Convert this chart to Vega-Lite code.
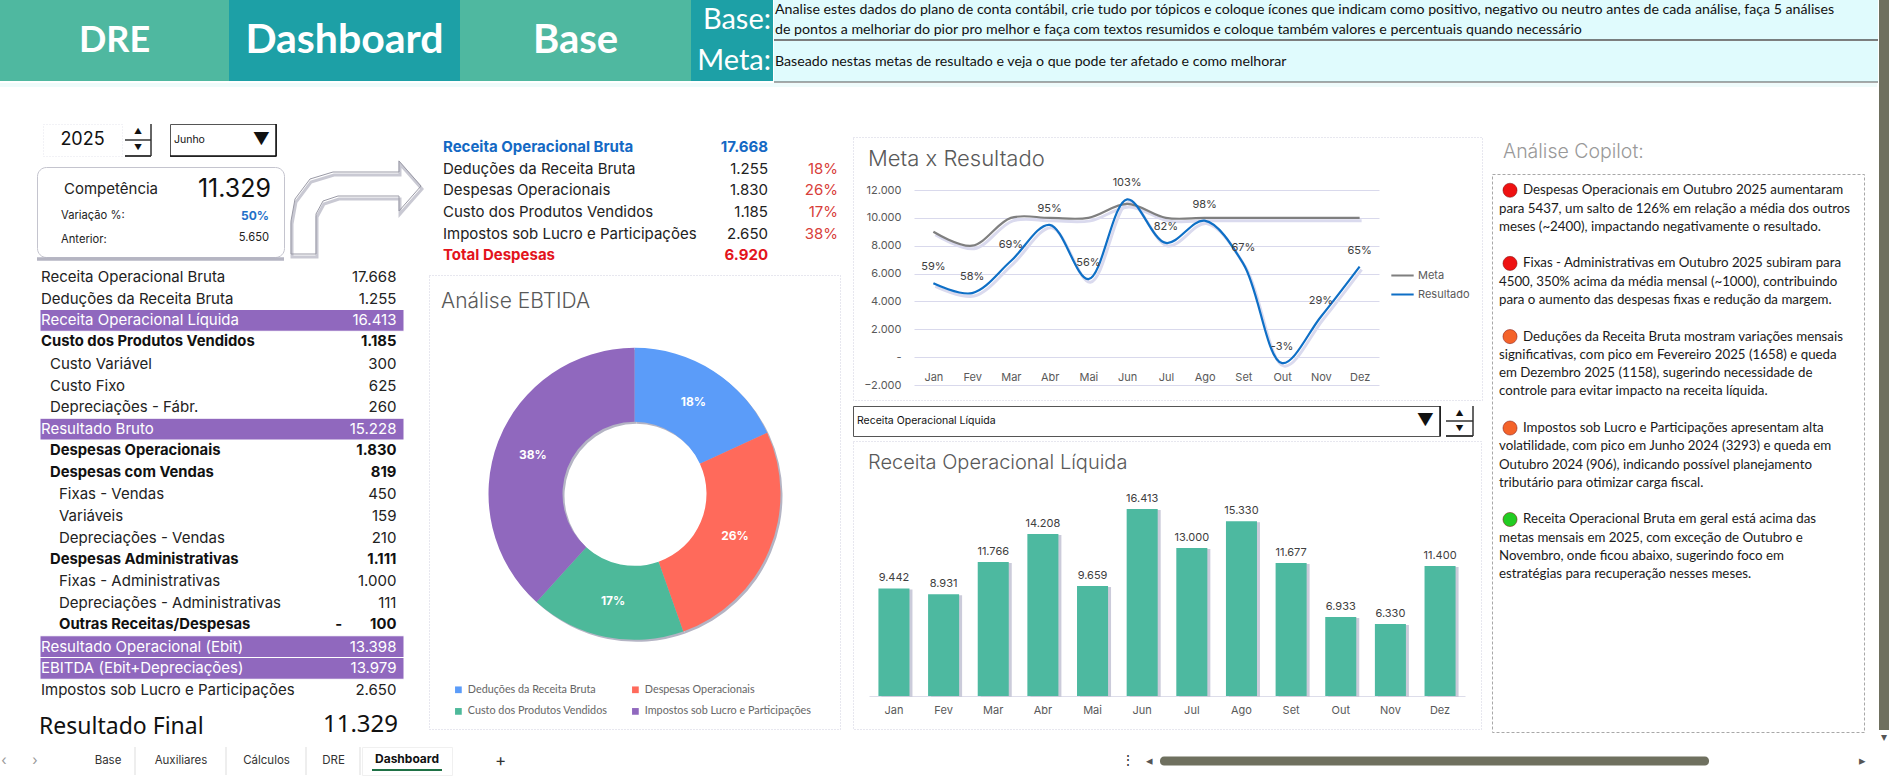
{
  "$schema": "https://vega.github.io/schema/vega-lite/v6.json",
  "description": "Dashboard DRE 2025",
  "padding": 0,
  "background": "white",
  "config": {
    "font": "Inter",
    "view": {"stroke": null},
    "concat": {"spacing": 0},
    "text": {"font": "Inter"},
    "locale": {"number": {"decimal": ",", "thousands": ".", "grouping": [3], "currency": ["R$", ""]}}
  },
  "datasets": {
    "dre": [
      {"linha": 1, "conta": "Receita Operacional Bruta", "nivel": 0, "valor": "17.668", "estilo": "normal"},
      {"linha": 2, "conta": "Deduções da Receita Bruta", "nivel": 0, "valor": "1.255", "estilo": "normal"},
      {"linha": 3, "conta": "Receita Operacional Líquida", "nivel": 0, "valor": "16.413", "estilo": "destaque"},
      {"linha": 4, "conta": "Custo dos Produtos Vendidos", "nivel": 0, "valor": "1.185", "estilo": "negrito"},
      {"linha": 5, "conta": "Custo Variável", "nivel": 1, "valor": "300", "estilo": "normal"},
      {"linha": 6, "conta": "Custo Fixo", "nivel": 1, "valor": "625", "estilo": "normal"},
      {"linha": 7, "conta": "Depreciações - Fábr.", "nivel": 1, "valor": "260", "estilo": "normal"},
      {"linha": 8, "conta": "Resultado Bruto", "nivel": 0, "valor": "15.228", "estilo": "destaque"},
      {"linha": 9, "conta": "Despesas Operacionais", "nivel": 1, "valor": "1.830", "estilo": "negrito"},
      {"linha": 10, "conta": "Despesas com Vendas", "nivel": 1, "valor": "819", "estilo": "negrito"},
      {"linha": 11, "conta": "Fixas - Vendas", "nivel": 2, "valor": "450", "estilo": "normal"},
      {"linha": 12, "conta": "Variáveis", "nivel": 2, "valor": "159", "estilo": "normal"},
      {"linha": 13, "conta": "Depreciações - Vendas", "nivel": 2, "valor": "210", "estilo": "normal"},
      {"linha": 14, "conta": "Despesas Administrativas", "nivel": 1, "valor": "1.111", "estilo": "negrito"},
      {"linha": 15, "conta": "Fixas - Administrativas", "nivel": 2, "valor": "1.000", "estilo": "normal"},
      {"linha": 16, "conta": "Depreciações - Administrativas", "nivel": 2, "valor": "111", "estilo": "normal"},
      {"linha": 17, "conta": "Outras Receitas/Despesas", "nivel": 2, "valor": "-\u00a0\u00a0\u00a0\u00a0\u00a0\u00a0\u00a0\u00a0100", "estilo": "negrito"},
      {"linha": 18, "conta": "Resultado Operacional (Ebit)", "nivel": 0, "valor": "13.398", "estilo": "destaque"},
      {"linha": 19, "conta": "EBITDA (Ebit+Depreciações)", "nivel": 0, "valor": "13.979", "estilo": "destaque"},
      {"linha": 20, "conta": "Impostos sob Lucro e Participações", "nivel": 0, "valor": "2.650", "estilo": "normal"}
    ],
    "despesas": [
      {"linha": 1, "conta": "Receita Operacional Bruta", "valor": "17.668", "pct": "", "estilo": "receita"},
      {"linha": 2, "conta": "Deduções da Receita Bruta", "valor": "1.255", "pct": "18%", "estilo": "normal"},
      {"linha": 3, "conta": "Despesas Operacionais", "valor": "1.830", "pct": "26%", "estilo": "normal"},
      {"linha": 4, "conta": "Custo dos Produtos Vendidos", "valor": "1.185", "pct": "17%", "estilo": "normal"},
      {"linha": 5, "conta": "Impostos sob Lucro e Participações", "valor": "2.650", "pct": "38%", "estilo": "normal"},
      {"linha": 6, "conta": "Total Despesas", "valor": "6.920", "pct": "", "estilo": "total"}
    ],
    "ebtida": [
      {"ordem": 1, "conta": "Deduções da Receita Bruta", "valor": 1255, "pct": "18%"},
      {"ordem": 2, "conta": "Despesas Operacionais", "valor": 1830, "pct": "26%"},
      {"ordem": 3, "conta": "Custo dos Produtos Vendidos", "valor": 1185, "pct": "17%"},
      {"ordem": 4, "conta": "Impostos sob Lucro e Participações", "valor": 2650, "pct": "38%"}
    ],
    "metaResultado": [
      {"mes": "Jan", "serie": "Meta", "valor": 9000},
      {"mes": "Fev", "serie": "Meta", "valor": 8000},
      {"mes": "Mar", "serie": "Meta", "valor": 10000},
      {"mes": "Abr", "serie": "Meta", "valor": 10000},
      {"mes": "Mai", "serie": "Meta", "valor": 10000},
      {"mes": "Jun", "serie": "Meta", "valor": 11000},
      {"mes": "Jul", "serie": "Meta", "valor": 10000},
      {"mes": "Ago", "serie": "Meta", "valor": 10000},
      {"mes": "Set", "serie": "Meta", "valor": 10000},
      {"mes": "Out", "serie": "Meta", "valor": 10000},
      {"mes": "Nov", "serie": "Meta", "valor": 10000},
      {"mes": "Dez", "serie": "Meta", "valor": 10000},
      {"mes": "Jan", "serie": "Resultado", "valor": 5300, "pct": "59%"},
      {"mes": "Fev", "serie": "Resultado", "valor": 4600, "pct": "58%"},
      {"mes": "Mar", "serie": "Resultado", "valor": 6900, "pct": "69%"},
      {"mes": "Abr", "serie": "Resultado", "valor": 9500, "pct": "95%"},
      {"mes": "Mai", "serie": "Resultado", "valor": 5600, "pct": "56%"},
      {"mes": "Jun", "serie": "Resultado", "valor": 11329, "pct": "103%"},
      {"mes": "Jul", "serie": "Resultado", "valor": 8200, "pct": "82%"},
      {"mes": "Ago", "serie": "Resultado", "valor": 9800, "pct": "98%"},
      {"mes": "Set", "serie": "Resultado", "valor": 6700, "pct": "67%"},
      {"mes": "Out", "serie": "Resultado", "valor": -430, "pct": "-3%"},
      {"mes": "Nov", "serie": "Resultado", "valor": 2900, "pct": "29%"},
      {"mes": "Dez", "serie": "Resultado", "valor": 6500, "pct": "65%"}
    ],
    "receita": [
      {"mes": "Jan", "valor": 9442},
      {"mes": "Fev", "valor": 8931},
      {"mes": "Mar", "valor": 11766},
      {"mes": "Abr", "valor": 14208},
      {"mes": "Mai", "valor": 9659},
      {"mes": "Jun", "valor": 16413},
      {"mes": "Jul", "valor": 13000},
      {"mes": "Ago", "valor": 15330},
      {"mes": "Set", "valor": 11677},
      {"mes": "Out", "valor": 6933},
      {"mes": "Nov", "valor": 6330},
      {"mes": "Dez", "valor": 11400}
    ],
    "copilot": [
      {"linha": 0, "recuo": 1, "status": "negativo", "texto": "Despesas Operacionais em Outubro 2025 aumentaram"},
      {"linha": 1, "recuo": 0, "texto": "para 5437, um salto de 126% em relação a média dos outros"},
      {"linha": 2, "recuo": 0, "texto": "meses (~2400), impactando negativamente o resultado."},
      {"linha": 4, "recuo": 1, "status": "negativo", "texto": "Fixas - Administrativas em Outubro 2025 subiram para"},
      {"linha": 5, "recuo": 0, "texto": "4500, 350% acima da média mensal (~1000), contribuindo"},
      {"linha": 6, "recuo": 0, "texto": "para o aumento das despesas fixas e redução da margem."},
      {"linha": 8, "recuo": 1, "status": "alerta", "texto": "Deduções da Receita Bruta mostram variações mensais"},
      {"linha": 9, "recuo": 0, "texto": "significativas, com pico em Fevereiro 2025 (1658) e queda"},
      {"linha": 10, "recuo": 0, "texto": "em Dezembro 2025 (1158), sugerindo necessidade de"},
      {"linha": 11, "recuo": 0, "texto": "controle para evitar impacto na receita líquida."},
      {"linha": 13, "recuo": 1, "status": "alerta", "texto": "Impostos sob Lucro e Participações apresentam alta"},
      {"linha": 14, "recuo": 0, "texto": "volatilidade, com pico em Junho 2024 (3293) e queda em"},
      {"linha": 15, "recuo": 0, "texto": "Outubro 2024 (906), indicando possível planejamento"},
      {"linha": 16, "recuo": 0, "texto": "tributário para otimizar carga fiscal."},
      {"linha": 18, "recuo": 1, "status": "positivo", "texto": "Receita Operacional Bruta em geral está acima das"},
      {"linha": 19, "recuo": 0, "texto": "metas mensais em 2025, com exceção de Outubro e"},
      {"linha": 20, "recuo": 0, "texto": "Novembro, onde ficou abaixo, sugerindo foco em"},
      {"linha": 21, "recuo": 0, "texto": "estratégias para recuperação nesses meses."}
    ],
    "seta": [
      {"ponto": 1, "px": 293, "py": 255},
      {"ponto": 2, "px": 318, "py": 255},
      {"ponto": 3, "px": 318, "py": 215},
      {"ponto": 4, "px": 325, "py": 202},
      {"ponto": 5, "px": 340, "py": 197},
      {"ponto": 6, "px": 401, "py": 197},
      {"ponto": 7, "px": 401, "py": 212},
      {"ponto": 8, "px": 423, "py": 187},
      {"ponto": 9, "px": 401, "py": 162},
      {"ponto": 10, "px": 401, "py": 173},
      {"ponto": 11, "px": 335, "py": 173},
      {"ponto": 12, "px": 312, "py": 180},
      {"ponto": 13, "px": 297, "py": 200},
      {"ponto": 14, "px": 293, "py": 222}
    ]
  },
  "hconcat": [
    {
      "vconcat": [
        {
          "hconcat": [
            {"width": 229, "height": 81, "view": {"fill": "#4FB8A0"}, "data": {"values": [{"aba": "DRE"}]}, "mark": {"type": "text", "font": "Lato", "fontSize": 36, "fontWeight": "bold", "color": "white"}, "encoding": {"text": {"field": "aba"}}},
            {"width": 231, "height": 81, "view": {"fill": "#1DA0A6"}, "data": {"values": [{"aba": "Dashboard"}]}, "mark": {"type": "text", "font": "Lato", "fontSize": 41, "fontWeight": "bold", "color": "white"}, "encoding": {"text": {"field": "aba"}}},
            {"width": 231, "height": 81, "view": {"fill": "#4FB8A0"}, "data": {"values": [{"aba": "Base"}]}, "mark": {"type": "text", "font": "Lato", "fontSize": 40, "fontWeight": "bold", "color": "white"}, "encoding": {"text": {"field": "aba"}}},
            {
              "width": 82, "height": 81, "view": {"fill": "#1DA0A6"},
              "data": {"values": [{"rotulo": "Base:"}, {"rotulo": "Meta:"}]},
              "mark": {"type": "text", "font": "Lato", "fontSize": 29, "color": "white", "align": "right", "dx": -2},
              "encoding": {
                "text": {"field": "rotulo"},
                "x": {"datum": 1, "type": "quantitative", "axis": null, "scale": {"domain": [0, 1]}},
                "y": {"field": "rotulo", "type": "ordinal", "axis": null, "sort": null, "scale": {"paddingInner": 0, "paddingOuter": 0}}
              }
            },
            {
              "vconcat": [
                {
                  "width": 1104, "height": 40, "view": {"fill": "#E0FBFD"},
                  "data": {"values": [
                    {"linha": 1, "texto": "Analise estes dados do plano de conta contábil, crie tudo por tópicos e coloque ícones que indicam como positivo, negativo ou neutro antes de cada análise, faça 5 análises"},
                    {"linha": 2, "texto": "de pontos a melhoriar do pior pro melhor e faça com textos resumidos e coloque também valores e percentuais quando necessário"}
                  ]},
                  "layer": [
                    {"mark": {"type": "text", "font": "Lato", "fontSize": 14.2, "align": "left", "dx": 1, "color": "#111"}, "encoding": {"text": {"field": "texto"}, "x": {"datum": 0, "type": "quantitative", "axis": null, "scale": {"domain": [0, 1]}}, "y": {"field": "linha", "type": "ordinal", "axis": null, "scale": {"paddingInner": 0, "paddingOuter": 0}}}},
                    {"mark": {"type": "rule", "color": "#555", "strokeWidth": 1}, "encoding": {"y": {"value": "height"}}}
                  ]
                },
                {
                  "width": 1104, "height": 41, "view": {"fill": "#E0FBFD"},
                  "data": {"values": [{"texto": "Baseado nestas metas de resultado e veja o que pode ter afetado e como melhorar"}]},
                  "layer": [
                    {"mark": {"type": "text", "font": "Lato", "fontSize": 14.2, "align": "left", "dx": 1, "color": "#111"}, "encoding": {"text": {"field": "texto"}, "x": {"datum": 0, "type": "quantitative", "axis": null, "scale": {"domain": [0, 1]}}}},
                    {"mark": {"type": "rule", "color": "#555", "strokeWidth": 1}, "encoding": {"y": {"value": "height"}}}
                  ]
                }
              ],
              "spacing": 0
            }
          ],
          "spacing": 0
        },
        {"width": 1877, "height": 4, "view": {"fill": "#EFFBFB"}, "data": {"values": []}, "mark": "text"},
        {
          "hconcat": [
            {
              "vconcat": [
                {"width": 420, "height": 35, "data": {"values": []}, "mark": "text"},
                {
                  "hconcat": [
                    {"width": 42, "height": 32, "data": {"values": []}, "mark": "text"},
                    {"width": 79, "height": 32, "view": {"stroke": "#E4E4EC", "strokeDash": [1, 2]}, "data": {"values": [{"ano": "2025"}]}, "mark": {"type": "text", "fontSize": 18, "color": "#111"}, "encoding": {"text": {"field": "ano"}}},
                    {"width": 1, "height": 32, "data": {"values": []}, "mark": "text"},
                    {
                      "width": 26, "height": 32,
                      "data": {"values": [{"botao": "▲"}, {"botao": "▼"}]},
                      "layer": [
                        {"mark": {"type": "text", "fontSize": 8, "color": "#111"}, "encoding": {"text": {"field": "botao"}, "y": {"field": "botao", "type": "ordinal", "axis": null, "sort": null, "scale": {"paddingInner": 0, "paddingOuter": 0}}}},
                        {"mark": {"type": "rule", "color": "#333"}, "encoding": {"y": {"value": 16}}},
                        {"mark": {"type": "rule", "color": "#333", "strokeWidth": 1.5}, "encoding": {"y": {"value": "height"}}},
                        {"mark": {"type": "rule", "color": "#333"}, "encoding": {"x": {"value": "width"}}}
                      ]
                    },
                    {"width": 16, "height": 32, "data": {"values": []}, "mark": "text"},
                    {
                      "width": 106, "height": 32, "view": {"stroke": "#555"},
                      "data": {"values": [{"mes": "Junho", "seta": "▼"}]},
                      "layer": [
                        {"mark": {"type": "text", "fontSize": 10.5, "align": "left", "dx": 4, "color": "#111"}, "encoding": {"text": {"field": "mes"}, "x": {"datum": 0, "type": "quantitative", "axis": null, "scale": {"domain": [0, 1]}}}},
                        {"mark": {"type": "text", "fontSize": 17, "align": "right", "dx": -6, "color": "#111"}, "encoding": {"text": {"field": "seta"}, "x": {"datum": 1, "type": "quantitative", "axis": null, "scale": {"domain": [0, 1]}}}},
                        {"mark": {"type": "rule", "color": "#111", "strokeWidth": 1.5}, "encoding": {"y": {"value": "height"}}},
                        {"mark": {"type": "rule", "color": "#111", "strokeWidth": 1.5}, "encoding": {"x": {"value": "width"}}}
                      ]
                    }
                  ],
                  "spacing": 0
                },
                {
                  "hconcat": [
                    {"width": 35, "height": 106, "data": {"values": []}, "mark": "text"},
                    {
                      "vconcat": [
                        {"width": 247, "height": 6, "data": {"values": []}, "mark": "text"},
                        {
                          "width": 247, "height": 90,
                          "view": {"stroke": "#C4C4CE", "cornerRadius": 9},
                          "data": {"values": [
                            {"linha": 1, "rotulo": "Competência", "valor": "11.329", "estilo": "grande"},
                            {"linha": 2, "rotulo": "Variação %:", "valor": "50%", "estilo": "azul"},
                            {"linha": 3, "rotulo": "Anterior:", "valor": "5.650", "estilo": "normal"}
                          ]},
                          "encoding": {
                            "y": {"field": "linha", "type": "ordinal", "axis": null, "scale": {"type": "point", "padding": 0, "range": [22, 71]}}
                          },
                          "layer": [
                            {"mark": {"type": "rule", "color": "#B4B4C0", "strokeWidth": 3, "yOffset": 2, "opacity": 0.7}, "encoding": {"y": {"value": "height"}}},
                            {"transform": [{"filter": "datum.estilo == 'grande'"}], "mark": {"type": "text", "fontSize": 15, "align": "left", "color": "#222"}, "encoding": {"text": {"field": "rotulo"}, "x": {"datum": 27, "type": "quantitative", "axis": null, "scale": {"domain": [0, 247]}}}},
                            {"transform": [{"filter": "datum.estilo == 'grande'"}], "mark": {"type": "text", "fontSize": 25, "align": "right", "color": "#111"}, "encoding": {"text": {"field": "valor"}, "x": {"datum": 234, "type": "quantitative", "axis": null, "scale": {"domain": [0, 247]}}}},
                            {"transform": [{"filter": "datum.estilo != 'grande'"}], "mark": {"type": "text", "fontSize": 11.2, "align": "left", "color": "#222", "dy": 2}, "encoding": {"text": {"field": "rotulo"}, "x": {"datum": 24, "type": "quantitative", "axis": null, "scale": {"domain": [0, 247]}}}},
                            {"transform": [{"filter": "datum.estilo == 'azul'"}], "mark": {"type": "text", "fontSize": 12, "fontWeight": "bold", "align": "right", "color": "#1F70C8", "dy": 2}, "encoding": {"text": {"field": "valor"}, "x": {"datum": 232, "type": "quantitative", "axis": null, "scale": {"domain": [0, 247]}}}},
                            {"transform": [{"filter": "datum.estilo == 'normal'"}], "mark": {"type": "text", "fontSize": 11.2, "align": "right", "color": "#222", "dy": 0}, "encoding": {"text": {"field": "valor"}, "x": {"datum": 232, "type": "quantitative", "axis": null, "scale": {"domain": [0, 247]}}}}
                          ]
                        }
                      ],
                      "spacing": 0
                    },
                    {
                      "width": 131, "height": 106,
                      "data": {"name": "seta"},
                      "encoding": {
                        "x": {"field": "px", "type": "quantitative", "axis": null, "scale": {"domain": [293, 424], "zero": false}},
                        "y": {"field": "py", "type": "quantitative", "axis": null, "scale": {"domain": [267, 161], "zero": false}},
                        "order": {"field": "ponto"}
                      },
                      "layer": [
                        {"mark": {"type": "line", "interpolate": "linear-closed", "color": "#C9C9D3", "strokeWidth": 3, "xOffset": 1, "yOffset": 3}},
                        {"mark": {"type": "line", "interpolate": "linear-closed", "color": "#9A9AA6", "strokeWidth": 1}}
                      ]
                    }
                  ],
                  "spacing": 0
                },
                {
                  "hconcat": [
                    {"width": 39, "height": 435, "data": {"values": []}, "mark": "text"},
                    {
                      "width": 364, "height": 435,
                      "data": {"name": "dre"},
                      "encoding": {
                        "y": {"field": "linha", "type": "ordinal", "axis": null, "scale": {"paddingInner": 0, "paddingOuter": 0}}
                      },
                      "layer": [
                        {"transform": [{"filter": "datum.estilo == 'destaque'"}], "mark": {"type": "rect", "color": "#9068BE", "stroke": "white", "strokeWidth": 1}},
                        {"transform": [{"filter": "datum.estilo == 'normal'"}], "mark": {"type": "text", "fontSize": 15, "align": "left", "dx": 1, "color": "#222"}, "encoding": {"text": {"field": "conta"}, "x": {"field": "nivel", "type": "quantitative", "axis": null, "scale": {"domain": [0, 40.44], "nice": false}}}},
                        {"transform": [{"filter": "datum.estilo == 'normal'"}], "mark": {"type": "text", "fontSize": 15, "align": "right", "color": "#222"}, "encoding": {"text": {"field": "valor"}, "x": {"datum": 39.6, "type": "quantitative", "axis": null, "scale": {"domain": [0, 40.44], "nice": false}}}},
                        {"transform": [{"filter": "datum.estilo == 'negrito'"}], "mark": {"type": "text", "fontSize": 14.8, "fontWeight": "bold", "align": "left", "dx": 1, "color": "#111"}, "encoding": {"text": {"field": "conta"}, "x": {"field": "nivel", "type": "quantitative", "axis": null, "scale": {"domain": [0, 40.44], "nice": false}}}},
                        {"transform": [{"filter": "datum.estilo == 'negrito'"}], "mark": {"type": "text", "fontSize": 14.8, "fontWeight": "bold", "align": "right", "color": "#111"}, "encoding": {"text": {"field": "valor"}, "x": {"datum": 39.6, "type": "quantitative", "axis": null, "scale": {"domain": [0, 40.44], "nice": false}}}},
                        {"transform": [{"filter": "datum.estilo == 'destaque'"}], "mark": {"type": "text", "fontSize": 15, "align": "left", "dx": 1, "color": "white"}, "encoding": {"text": {"field": "conta"}, "x": {"field": "nivel", "type": "quantitative", "axis": null, "scale": {"domain": [0, 40.44], "nice": false}}}},
                        {"transform": [{"filter": "datum.estilo == 'destaque'"}], "mark": {"type": "text", "fontSize": 15, "align": "right", "color": "white"}, "encoding": {"text": {"field": "valor"}, "x": {"datum": 39.6, "type": "quantitative", "axis": null, "scale": {"domain": [0, 40.44], "nice": false}}}}
                      ]
                    }
                  ],
                  "spacing": 0
                },
                {
                  "hconcat": [
                    {"width": 39, "height": 41, "data": {"values": []}, "mark": "text"},
                    {
                      "width": 364, "height": 41,
                      "data": {"values": [{"rotulo": "Resultado Final", "valor": "11.329"}]},
                      "layer": [
                        {"mark": {"type": "text", "fontSize": 23, "font": "Noto Sans", "align": "left", "dy": 5, "color": "#111"}, "encoding": {"text": {"field": "rotulo"}, "x": {"datum": 0, "type": "quantitative", "axis": null, "scale": {"domain": [0, 364]}}}},
                        {"mark": {"type": "text", "fontSize": 24, "font": "Noto Sans", "align": "right", "dy": 3, "color": "#111"}, "encoding": {"text": {"field": "valor"}, "x": {"datum": 359, "type": "quantitative", "axis": null, "scale": {"domain": [0, 364]}}}}
                      ]
                    }
                  ],
                  "spacing": 0
                }
              ],
              "spacing": 0
            },
            {
              "vconcat": [
                {"width": 423, "height": 49, "data": {"values": []}, "mark": "text"},
                {
                  "width": 421, "height": 130,
                  "data": {"name": "despesas"},
                  "encoding": {
                    "y": {"field": "linha", "type": "ordinal", "axis": null, "scale": {"paddingInner": 0, "paddingOuter": 0}}
                  },
                  "layer": [
                    {"transform": [{"filter": "datum.estilo == 'normal'"}], "mark": {"type": "text", "fontSize": 15, "align": "left", "color": "#222"}, "encoding": {"text": {"field": "conta"}, "x": {"datum": 14, "type": "quantitative", "axis": null, "scale": {"domain": [0, 421]}}}},
                    {"transform": [{"filter": "datum.estilo == 'normal'"}], "mark": {"type": "text", "fontSize": 15, "align": "right", "color": "#222"}, "encoding": {"text": {"field": "valor"}, "x": {"datum": 339, "type": "quantitative", "axis": null, "scale": {"domain": [0, 421]}}}},
                    {"transform": [{"filter": "datum.estilo == 'normal'"}], "mark": {"type": "text", "fontSize": 15, "align": "right", "color": "#D8403A"}, "encoding": {"text": {"field": "pct"}, "x": {"datum": 409, "type": "quantitative", "axis": null, "scale": {"domain": [0, 421]}}}},
                    {"transform": [{"filter": "datum.estilo != 'normal'"}], "mark": {"type": "text", "fontSize": 15, "fontWeight": "bold", "align": "left"}, "encoding": {"text": {"field": "conta"}, "color": {"field": "estilo", "type": "nominal", "legend": null, "scale": {"domain": ["receita", "total"], "range": ["#1469C4", "#E3141C"]}}, "x": {"datum": 14, "type": "quantitative", "axis": null, "scale": {"domain": [0, 421]}}}},
                    {"transform": [{"filter": "datum.estilo != 'normal'"}], "mark": {"type": "text", "fontSize": 15, "fontWeight": "bold", "align": "right"}, "encoding": {"text": {"field": "valor"}, "color": {"field": "estilo", "type": "nominal", "legend": null, "scale": {"domain": ["receita", "total"], "range": ["#1469C4", "#E3141C"]}}, "x": {"datum": 339, "type": "quantitative", "axis": null, "scale": {"domain": [0, 421]}}}}
                  ]
                },
                {"width": 421, "height": 8, "data": {"values": []}, "mark": "text"},
                {
                  "width": 411, "height": 454,
                  "view": {"stroke": "#CFCFDE", "strokeDash": [1, 2]},
                  "title": {"text": "Análise EBTIDA", "anchor": "start", "offset": -37, "dx": 12, "fontSize": 21, "fontWeight": 300, "font": "Inter", "color": "#595959"},
                  "data": {"name": "ebtida"},
                  "encoding": {
                    "theta": {"field": "valor", "type": "quantitative", "stack": true},
                    "order": {"field": "ordem"},
                    "x": {"datum": 0.5, "type": "quantitative", "axis": null, "scale": {"domain": [0, 1]}},
                    "y": {"datum": 0.482, "type": "quantitative", "axis": null, "scale": {"domain": [0, 1], "reverse": true}}
                  },
                  "layer": [
                    {"mark": {"type": "arc", "innerRadius": 72, "outerRadius": 146, "color": "#B4B4C4", "xOffset": 2, "yOffset": 2}},
                    {
                      "mark": {"type": "arc", "innerRadius": 72, "outerRadius": 146},
                      "encoding": {
                        "color": {
                          "field": "conta", "type": "nominal",
                          "scale": {"domain": ["Deduções da Receita Bruta", "Custo dos Produtos Vendidos", "Despesas Operacionais", "Impostos sob Lucro e Participações"], "range": ["#5B9CF9", "#4DB99A", "#FF6A5B", "#9068BE"]},
                          "legend": {"title": null, "orient": "none", "legendX": 24, "legendY": 409, "columns": 2, "columnPadding": 22, "rowPadding": 10, "symbolType": "square", "symbolSize": 45, "labelFontSize": 10.8, "labelColor": "#666", "labelFont": "Lato", "labelOffset": 4, "labelLimit": 300}
                        }
                      }
                    },
                    {
                      "mark": {"type": "text", "radius": 109, "fontSize": 12, "fontWeight": "bold", "color": "white"},
                      "encoding": {"text": {"field": "pct"}}
                    }
                  ]
                }
              ],
              "spacing": 0,
              "resolve": {"scale": {"color": "independent"}}
            },
            {
              "vconcat": [
                {"width": 638, "height": 49, "data": {"values": []}, "mark": "text"},
                {
                  "width": 629, "height": 263,
                  "view": {"stroke": "#CFCFDE", "strokeDash": [1, 2]},
                  "title": {"text": "Meta x Resultado", "anchor": "start", "offset": -34, "dx": 15, "fontSize": 22, "fontWeight": 300, "font": "Inter", "color": "#595959"},
                  "data": {"name": "metaResultado"},
                  "encoding": {
                    "x": {
                      "field": "mes", "type": "ordinal", "title": null,
                      "scale": {"type": "point", "padding": 0.5, "range": [61, 526], "domain": ["Jan", "Fev", "Mar", "Abr", "Mai", "Jun", "Jul", "Ago", "Set", "Out", "Nov", "Dez"]},
                      "axis": {"offset": -31, "domain": false, "ticks": false, "labelAngle": 0, "labelPadding": 2, "labelFontSize": 11, "labelColor": "#595959", "labelFont": "Inter", "grid": false}
                    },
                    "y": {
                      "field": "valor", "type": "quantitative", "title": null,
                      "scale": {"domain": [-2000, 12000], "range": [248, 53], "nice": false},
                      "axis": {"values": [-2000, 0, 2000, 4000, 6000, 8000, 10000, 12000], "format": ",d", "labelExpr": "datum.value === 0 ? '-' : datum.label", "offset": -49, "domain": false, "ticks": false, "labelPadding": 1, "labelFontSize": 11, "labelColor": "#595959", "labelFont": "Inter", "grid": true, "gridColor": "#D9D9EC", "gridWidth": 1}
                    }
                  },
                  "layer": [
                    {"mark": {"type": "line", "interpolate": "catmull-rom", "strokeWidth": 3, "color": "#DADAEE", "xOffset": 2, "yOffset": 3}, "encoding": {"detail": {"field": "serie"}}},
                    {
                      "mark": {"type": "line", "interpolate": "catmull-rom", "strokeWidth": 2.2},
                      "encoding": {
                        "color": {
                          "field": "serie", "type": "nominal",
                          "scale": {"domain": ["Meta", "Resultado"], "range": ["#7F7F7F", "#0E6FC6"]},
                          "legend": {"title": null, "orient": "none", "legendX": 537, "legendY": 129, "symbolType": "stroke", "symbolStrokeWidth": 2.2, "symbolSize": 500, "clipHeight": 19, "rowPadding": 0, "labelFontSize": 11, "labelColor": "#595959", "labelFont": "Inter", "labelOffset": 3}
                        }
                      }
                    },
                    {
                      "transform": [{"filter": "datum.serie == 'Resultado'"}],
                      "mark": {"type": "text", "fontSize": 11, "color": "#404040", "dy": -16},
                      "encoding": {"text": {"field": "pct"}}
                    }
                  ]
                },
                {"width": 638, "height": 3, "data": {"values": []}, "mark": "text"},
                {
                  "hconcat": [
                    {
                      "width": 587, "height": 30, "view": {"stroke": "#555"},
                      "data": {"values": [{"conta": "Receita Operacional Líquida", "seta": "▼"}]},
                      "layer": [
                        {"mark": {"type": "text", "fontSize": 10.5, "align": "left", "dx": 4, "color": "#111"}, "encoding": {"text": {"field": "conta"}, "x": {"datum": 0, "type": "quantitative", "axis": null, "scale": {"domain": [0, 1]}}}},
                        {"mark": {"type": "text", "fontSize": 17, "align": "right", "dx": -6, "color": "#111"}, "encoding": {"text": {"field": "seta"}, "x": {"datum": 1, "type": "quantitative", "axis": null, "scale": {"domain": [0, 1]}}}},
                        {"mark": {"type": "rule", "color": "#111", "strokeWidth": 1.5}, "encoding": {"x": {"value": "width"}}}
                      ]
                    },
                    {"width": 3, "height": 30, "data": {"values": []}, "mark": "text"},
                    {
                      "width": 27, "height": 30,
                      "data": {"values": [{"botao": "▲"}, {"botao": "▼"}]},
                      "layer": [
                        {"mark": {"type": "text", "fontSize": 8, "color": "#111"}, "encoding": {"text": {"field": "botao"}, "y": {"field": "botao", "type": "ordinal", "axis": null, "sort": null, "scale": {"paddingInner": 0, "paddingOuter": 0}}}},
                        {"mark": {"type": "rule", "color": "#333"}, "encoding": {"y": {"value": 15}}},
                        {"mark": {"type": "rule", "color": "#333", "strokeWidth": 1.5}, "encoding": {"y": {"value": "height"}}},
                        {"mark": {"type": "rule", "color": "#333"}, "encoding": {"x": {"value": "width"}}}
                      ]
                    }
                  ],
                  "spacing": 0
                },
                {"width": 638, "height": 2, "data": {"values": []}, "mark": "text"},
                {
                  "width": 628, "height": 288,
                  "view": {"stroke": "#CFCFDE", "strokeDash": [1, 2]},
                  "title": {"text": "Receita Operacional Líquida", "anchor": "start", "offset": -32, "dx": 15, "fontSize": 20, "fontWeight": 300, "font": "Inter", "color": "#595959"},
                  "data": {"name": "receita"},
                  "encoding": {
                    "x": {
                      "field": "mes", "type": "ordinal", "title": null,
                      "scale": {"paddingInner": 0.375, "paddingOuter": 0.19, "range": [16, 612], "domain": ["Jan", "Fev", "Mar", "Abr", "Mai", "Jun", "Jul", "Ago", "Set", "Out", "Nov", "Dez"]},
                      "axis": {"offset": -33, "domain": true, "domainColor": "#DDDDEA", "ticks": false, "labelAngle": 0, "labelPadding": 8, "labelFontSize": 11, "labelColor": "#595959", "labelFont": "Inter"}
                    },
                    "y": {
                      "field": "valor", "type": "quantitative", "axis": null,
                      "scale": {"domain": [0, 16413], "range": [255, 68], "nice": false}
                    }
                  },
                  "layer": [
                    {"mark": {"type": "bar", "color": "#CBCBDA", "xOffset": 3, "yOffset": 1}},
                    {"mark": {"type": "bar", "color": "#4DB9A0"}},
                    {"mark": {"type": "text", "fontSize": 11, "baseline": "bottom", "dy": -5, "color": "#404040"}, "encoding": {"text": {"field": "valor", "type": "quantitative", "format": ",d"}}}
                  ]
                }
              ],
              "spacing": 0,
              "resolve": {"scale": {"color": "independent"}}
            },
            {
              "vconcat": [
                {
                  "width": 372, "height": 86,
                  "title": {"text": "Análise Copilot:", "anchor": "start", "offset": -75, "dx": 11, "fontSize": 19.5, "fontWeight": 300, "font": "Inter", "color": "#999999"},
                  "data": {"values": []}, "mark": "text"
                },
                {
                  "width": 372, "height": 558,
                  "view": {"stroke": "#A8A8A8", "strokeDash": [3, 2]},
                  "data": {"name": "copilot"},
                  "encoding": {
                    "y": {"field": "linha", "type": "quantitative", "axis": null, "scale": {"domain": [29.62, -0.89], "nice": false, "zero": false}}
                  },
                  "layer": [
                    {
                      "transform": [{"filter": "isValid(datum.status)"}],
                      "mark": {"type": "point", "filled": true, "size": 200, "stroke": "#7A1010", "strokeWidth": 0.5, "opacity": 1},
                      "encoding": {
                        "x": {"datum": 0.46, "type": "quantitative", "axis": null, "scale": {"domain": [-0.29, 15.2], "nice": false, "zero": false}},
                        "fill": {"field": "status", "type": "nominal", "legend": null, "scale": {"domain": ["negativo", "alerta", "positivo"], "range": ["#EE1111", "#F4632A", "#22CC22"]}}
                      }
                    },
                    {
                      "mark": {"type": "text", "font": "Lato", "fontSize": 13.3, "align": "left", "color": "#1A1A1A"},
                      "encoding": {
                        "text": {"field": "texto"},
                        "x": {"field": "recuo", "type": "quantitative", "axis": null, "scale": {"domain": [-0.29, 15.2], "nice": false, "zero": false}}
                      }
                    }
                  ]
                }
              ],
              "spacing": 0
            }
          ],
          "spacing": 0,
          "resolve": {"scale": {"color": "independent"}}
        },
        {"width": 1860, "height": 4, "data": {"values": []}, "mark": "text"},
        {
          "hconcat": [
            {"width": 8, "height": 28, "data": {"values": [{"t": "‹"}]}, "mark": {"type": "text", "fontSize": 14, "color": "#999"}, "encoding": {"text": {"field": "t"}}},
            {"width": 54, "height": 28, "data": {"values": [{"t": "›"}]}, "mark": {"type": "text", "fontSize": 14, "color": "#999"}, "encoding": {"text": {"field": "t"}}},
            {"width": 19, "height": 28, "data": {"values": []}, "mark": "text"},
            {"width": 54, "height": 28, "data": {"values": [{"aba": "Base"}]}, "layer": [{"mark": {"type": "text", "fontSize": 11.5, "color": "#333"}, "encoding": {"text": {"field": "aba"}}}, {"mark": {"type": "rule", "color": "#DDD"}, "encoding": {"x": {"value": "width"}}}]},
            {"width": 90, "height": 28, "data": {"values": [{"aba": "Auxiliares"}]}, "layer": [{"mark": {"type": "text", "fontSize": 11.5, "color": "#333"}, "encoding": {"text": {"field": "aba"}}}, {"mark": {"type": "rule", "color": "#DDD"}, "encoding": {"x": {"value": "width"}}}]},
            {"width": 79, "height": 28, "data": {"values": [{"aba": "Cálculos"}]}, "layer": [{"mark": {"type": "text", "fontSize": 11.5, "color": "#333"}, "encoding": {"text": {"field": "aba"}}}, {"mark": {"type": "rule", "color": "#DDD"}, "encoding": {"x": {"value": "width"}}}]},
            {"width": 53, "height": 28, "data": {"values": [{"aba": "DRE"}]}, "layer": [{"mark": {"type": "text", "fontSize": 11.5, "color": "#333"}, "encoding": {"text": {"field": "aba"}}}, {"mark": {"type": "rule", "color": "#DDD"}, "encoding": {"x": {"value": "width"}}}]},
            {"width": 90, "height": 28, "view": {"stroke": "#F0F0F0"}, "data": {"values": [{"aba": "Dashboard"}]}, "layer": [{"mark": {"type": "text", "fontSize": 12, "fontWeight": "bold", "color": "#111", "dy": -2}, "encoding": {"text": {"field": "aba"}}}, {"mark": {"type": "rule", "color": "#1E7145", "strokeWidth": 2}, "encoding": {"y": {"value": 23}, "x": {"value": 10}, "x2": {"value": 80}}}]},
            {"width": 95, "height": 28, "data": {"values": [{"t": "+"}]}, "mark": {"type": "text", "fontSize": 17, "color": "#333"}, "encoding": {"text": {"field": "t"}}},
            {"width": 571, "height": 28, "data": {"values": []}, "mark": "text"},
            {"width": 18, "height": 28, "data": {"values": [{"t": "⋮"}]}, "mark": {"type": "text", "fontSize": 14, "color": "#333"}, "encoding": {"text": {"field": "t"}}},
            {
              "width": 730, "height": 28,
              "data": {"values": [{"inicio": 1161, "fim": 1710, "antes": "◂", "depois": "▸"}]},
              "layer": [
                {"mark": {"type": "bar", "color": "#6F705F", "height": 9, "cornerRadius": 4}, "encoding": {"x": {"field": "inicio", "type": "quantitative", "axis": null, "scale": {"domain": [1138, 1868], "nice": false, "zero": false}}, "x2": {"field": "fim"}}},
                {"mark": {"type": "text", "fontSize": 13, "color": "#555"}, "encoding": {"text": {"field": "antes"}, "x": {"datum": 1150, "type": "quantitative", "axis": null, "scale": {"domain": [1138, 1868], "nice": false, "zero": false}}}},
                {"mark": {"type": "text", "fontSize": 13, "color": "#555"}, "encoding": {"text": {"field": "depois"}, "x": {"datum": 1863, "type": "quantitative", "axis": null, "scale": {"domain": [1138, 1868], "nice": false, "zero": false}}}}
              ]
            }
          ],
          "spacing": 0
        }
      ],
      "spacing": 0
    },
    {
      "vconcat": [
        {"width": 10, "height": 730, "view": {"fill": "#6F705F"}, "data": {"values": []}, "mark": "text"},
        {"width": 10, "height": 14, "data": {"values": [{"t": "▾"}]}, "mark": {"type": "text", "fontSize": 12, "color": "#555"}, "encoding": {"text": {"field": "t"}}}
      ],
      "spacing": 0
    }
  ],
  "spacing": 0
}
